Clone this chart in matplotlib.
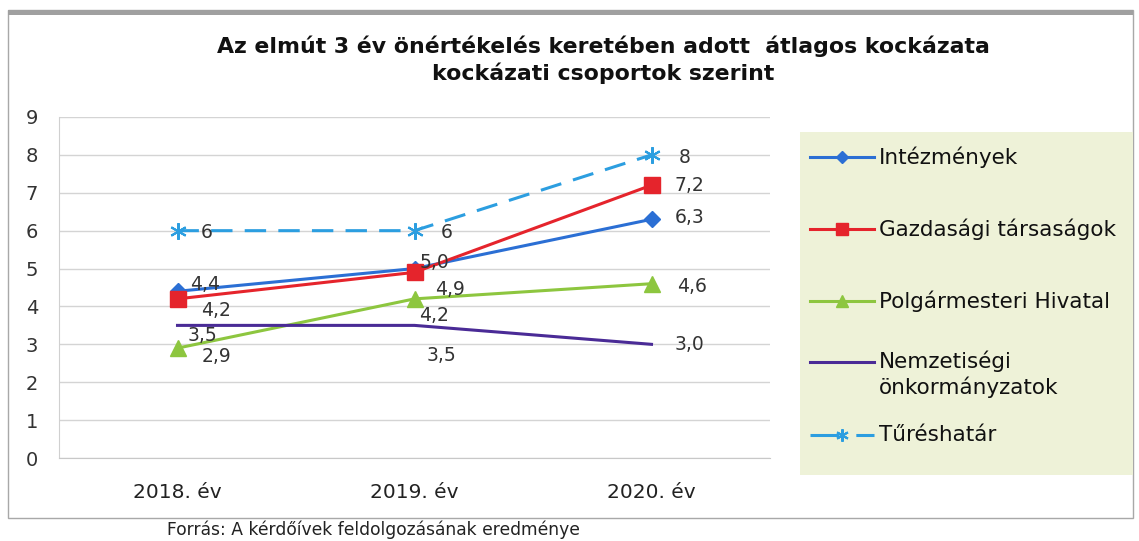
import matplotlib
matplotlib.use("Agg")
import matplotlib.pyplot as plt
from matplotlib.patches import Rectangle
from matplotlib.lines import Line2D

categories = ["2018. év", "2019. év", "2020. év"]
series_names = ["Intézmények", "Gazdasági társaságok", "Polgármesteri Hivatal",
                "Nemzetiségi\nönkormányzatok", "Tűréshatár"]
intezmenyek = [4.4, 5.0, 6.3]
gazdasagi = [4.2, 4.9, 7.2]
polgarmesteri = [2.9, 4.2, 4.6]
nemzetisegi = [3.5, 3.5, 3.0]
tureshatar = [6, 6, 8]
yticks = list(range(0, 10))

title = "Az elmút 3 év önértékelés keretében adott  átlagos kockázata\nkockázati csoportok szerint"
source = "Forrás: A kérdőívek feldolgozásának eredménye"

fig = plt.figure(figsize=(11.39, 5.41), dpi=100)
W, H = 1139, 541
def fx(px): return px / W
def fy(py): return 1 - py / H

# outer frame
fig.patches.append(Rectangle((fx(8), fy(518)), fx(1133) - fx(8), fy(10) - fy(518),
                             transform=fig.transFigure, fill=False, ec="#a8a8a8", lw=1.0))
fig.patches.append(Rectangle((fx(8), fy(15)), fx(1133) - fx(8), fy(10) - fy(15),
                             transform=fig.transFigure, fc="#a0a0a0", ec="none"))
# legend background
fig.patches.append(Rectangle((fx(800), fy(475)), fx(1133) - fx(800), fy(132) - fy(475),
                             transform=fig.transFigure, fc="#eef2d8", ec="none"))

ax = fig.add_axes([fx(59), fy(458), fx(770) - fx(59), fy(117) - fy(458)])
x = list(range(len(categories)))

tfont = "DejaVu Sans"
c_blue = "#2b6fd4"
c_red = "#e5242c"
c_green = "#8dc63f"
c_purple = "#4a2b96"
c_light = "#2c9ee0"

l1, = ax.plot(x, intezmenyek, color=c_blue, lw=2.2, marker="D", ms=8, label=series_names[0])
l2, = ax.plot(x, gazdasagi, color=c_red, lw=2.2, marker="s", ms=11, label=series_names[1])
l3, = ax.plot(x, polgarmesteri, color=c_green, lw=2.2, marker="^", ms=12, label=series_names[2])
l4, = ax.plot(x, nemzetisegi, color=c_purple, lw=2.2, label=series_names[3])
l5, = ax.plot(x, tureshatar, color=c_light, lw=2.2, ls=(0, (7, 4)), marker=(6, 2, 0), ms=12,
              mew=1.5, label=series_names[4])

def fmt(v):
    return f"{v:.1f}".replace(".", ",")

lab_kw = dict(fontsize=13.5, family=tfont, color="#333333", textcoords="offset pixels")
# label offsets in pixels (dx, dy) per series and point
offs = {
    0: [(28, 7), (20, 6), (38, 2)],
    1: [(39, -12), (35, -17), (38, 0)],
    2: [(39, -8), (20, -17), (40, -3)],
    3: [(25, -10), (27, -30), (38, 0)],
    4: [(29, -2), (32, -2), (33, -3)],
}
for si, vals in enumerate([intezmenyek, gazdasagi, polgarmesteri, nemzetisegi]):
    for i, v in enumerate(vals):
        dx, dy = offs[si][i]
        ax.annotate(fmt(v), (x[i], v), xytext=(dx, dy), ha="center", va="center", **lab_kw)
for i, v in enumerate(tureshatar):
    dx, dy = offs[4][i]
    ax.annotate(f"{v:g}", (x[i], v), xytext=(dx, dy), ha="center", va="center", **lab_kw)

ax.set_xlim(-0.5, 2.5)
ax.set_ylim(0, 9)
ax.set_yticks(yticks)
ax.set_xticks(x)
ax.set_xticklabels(categories)
ax.yaxis.grid(True, color="#d4d4d4", lw=1)
ax.set_axisbelow(True)
for s in ["top", "right"]:
    ax.spines[s].set_visible(False)
ax.spines["left"].set_color("#d0d0d0")
ax.spines["bottom"].set_color("#c8c8c8")
ax.tick_params(length=0)
ax.tick_params(axis="y", pad=15, labelsize=14, labelcolor="#333333")
ax.tick_params(axis="x", pad=18, labelsize=14.5, labelcolor="#222222")
for t in ax.get_xticklabels() + ax.get_yticklabels():
    t.set_family(tfont)

fig.text(fx(603), fy(60), title, ha="center", va="center", fontsize=15.8, fontweight="bold",
         family="DejaVu Sans", linespacing=1.3, color="#111111")
fig.text(fx(373), fy(530), source, ha="center", va="center", fontsize=12.3,
         family="DejaVu Sans", color="#222222")

# legend drawn entry by entry (handles copy the style of the plotted lines)
leg_rows = [157, 229, 301, 362, 435]
for line, name, yy in zip([l1, l2, l3, l4, l5], series_names, leg_rows):
    h = Line2D([fx(810), fx(874)], [fy(yy), fy(yy)])
    h.update_from(line)
    h.set_marker("None")
    if line is l5:
        h.set_linestyle((0, (9.5, 5.5)))
    h.set_clip_on(False)
    h.set_clip_path(None)
    h.set_transform(fig.transFigure)
    fig.add_artist(h)
    if line.get_marker() not in (None, "None", ""):
        m = Line2D([fx(842)], [fy(yy)])
        m.update_from(line)
        m.set_linestyle("None")
        m.set_markersize(line.get_markersize() * 0.75)
        m.set_clip_on(False)
        m.set_clip_path(None)
        m.set_transform(fig.transFigure)
        fig.add_artist(m)
    t = fig.text(fx(879), fy(yy), name, ha="left", va="center",
                 fontsize=15.5, family="DejaVu Sans", color="#111111", linespacing=1.25)
    if "\n" in name:
        t.set_va("top")
        t.set_y(fy(yy - 11))

fig.savefig("out.png", dpi=100)
